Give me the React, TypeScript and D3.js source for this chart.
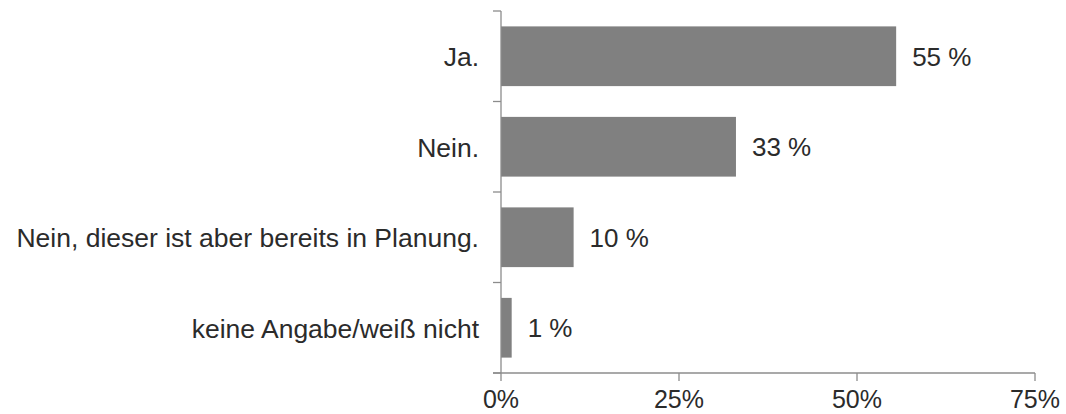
import React, { useEffect, useRef } from "react";
import * as d3 from "d3";

const categories = ["Ja.", "Nein.", "Nein, dieser ist aber bereits in Planung.", "keine Angabe/weiß nicht"];
const values = [55.5, 33.0, 10.2, 1.5];
const valueLabels = ["55 %", "33 %", "10 %", "1 %"];
const xTicks = [0, 25, 50, 75];

const W = 1066;
const H = 414;
const FONT = "'Liberation Sans', Arial, sans-serif";

export default function App() {
  const ref = useRef<SVGSVGElement>(null);

  useEffect(() => {
    const svg = d3.select(ref.current);
    svg.selectAll("*").remove();

    const x = d3.scaleLinear().domain([0, 75]).range([501, 1035]);
    const y = d3.scaleBand<string>().domain(categories).range([11, 373]).paddingInner(0.34).paddingOuter(0.17);
    const step = y.step();
    const axisColor = "#8c8c8c";
    const textColor = "#2b2b2b";

    svg.append("g")
      .selectAll("rect")
      .data(categories)
      .join("rect")
      .attr("x", x(0))
      .attr("y", (d) => y(d)!)
      .attr("width", (d, i) => x(values[i]) - x(0))
      .attr("height", y.bandwidth())
      .attr("fill", "#808080");

    svg.append("g")
      .selectAll("text")
      .data(categories)
      .join("text")
      .attr("x", (d, i) => x(values[i]) + 16)
      .attr("y", (d) => y(d)! + y.bandwidth() / 2)
      .attr("dy", "0.37em")
      .attr("font-family", FONT)
      .attr("font-size", 26)
      .attr("fill", textColor)
      .text((d, i) => valueLabels[i]);

    svg.append("g")
      .selectAll("text")
      .data(categories)
      .join("text")
      .attr("x", 479)
      .attr("y", (d) => y(d)! + y.bandwidth() / 2)
      .attr("dy", "0.37em")
      .attr("text-anchor", "end")
      .attr("font-family", FONT)
      .attr("font-size", 26.5)
      .attr("fill", textColor)
      .text((d) => d);

    const y0 = 11, y1 = 373;
    svg.append("line")
      .attr("x1", x(0)).attr("x2", x(0))
      .attr("y1", y0).attr("y2", y1)
      .attr("stroke", axisColor).attr("stroke-width", 1.3);
    const bounds = d3.range(categories.length + 1).map((i) => y0 + i * step);
    svg.append("g")
      .selectAll("line")
      .data(bounds)
      .join("line")
      .attr("x1", x(0) - 8).attr("x2", x(0))
      .attr("y1", (d) => d).attr("y2", (d) => d)
      .attr("stroke", axisColor).attr("stroke-width", 1.3);

    svg.append("line")
      .attr("x1", x(0) - 8).attr("x2", x(75))
      .attr("y1", y1).attr("y2", y1)
      .attr("stroke", axisColor).attr("stroke-width", 1.3);
    svg.append("g")
      .selectAll("line")
      .data(xTicks)
      .join("line")
      .attr("x1", (d) => x(d)).attr("x2", (d) => x(d))
      .attr("y1", y1).attr("y2", y1 + 8)
      .attr("stroke", axisColor).attr("stroke-width", 1.3);
    svg.append("g")
      .selectAll("text")
      .data(xTicks)
      .join("text")
      .attr("x", (d) => x(d))
      .attr("y", 408)
      .attr("text-anchor", "middle")
      .attr("font-family", FONT)
      .attr("font-size", 25)
      .attr("fill", textColor)
      .text((d) => `${d}%`);
  }, []);

  return (
    <svg
      ref={ref}
      width={W}
      height={H}
      style={{ position: "absolute", left: 0, top: 0, display: "block", background: "#fff" }}
    />
  );
}
